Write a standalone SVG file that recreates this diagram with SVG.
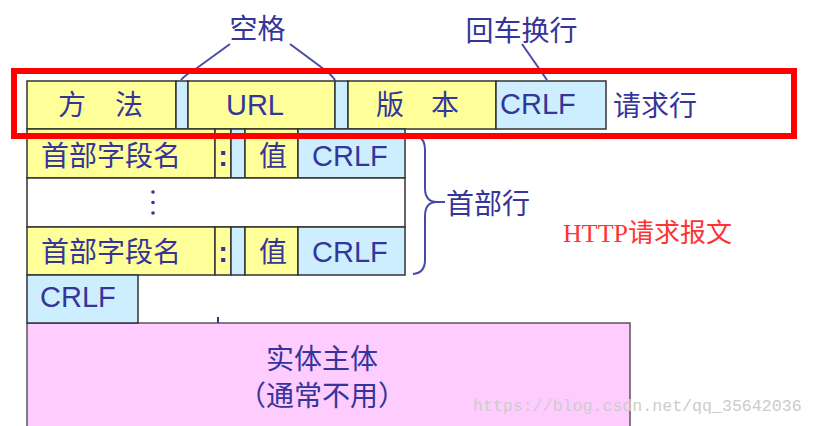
<svg xmlns="http://www.w3.org/2000/svg" width="815" height="426" viewBox="0 0 815 426">
<style>
.y{fill:#ffff99;stroke:#333;stroke-width:1.5}
.b{fill:#cceeff;stroke:#333;stroke-width:1.5}
.w{fill:#ffffff;stroke:#333;stroke-width:1.5}
.p{fill:#ffccff;stroke:#555;stroke-width:1.5}
.t{font-family:"Noto Sans CJK SC","Liberation Sans",sans-serif;font-size:28px;fill:#35359a}
.l{font-family:"Liberation Sans",Arial,sans-serif;font-size:29px;fill:#35359a}
.c{text-anchor:middle}
.ln{fill:none;stroke:#4a4aa6;stroke-width:2}
</style>
<rect width="815" height="426" fill="#ffffff"/>
<g id="body">
<rect class="p" x="27" y="323" width="603" height="120"/>
<text class="t c" x="322" y="369" font-size="25">实体主体</text>
<text class="t c" x="322" y="406" font-size="25">（通常不用）</text>
</g>
<g id="request-line">
<rect class="y" x="27" y="81" width="149" height="48"/>
<text class="t c" y="115"><tspan x="72">方</tspan><tspan x="129">法</tspan></text>
<rect class="b" x="176" y="81" width="12" height="48"/>
<rect class="y" x="188" y="81" width="147" height="48"/>
<text class="l c" x="255" y="115">URL</text>
<rect class="b" x="335" y="81" width="13" height="48"/>
<rect class="y" x="348" y="81" width="148" height="48"/>
<text class="t c" y="115"><tspan x="390">版</tspan><tspan x="445">本</tspan></text>
<rect class="b" x="496" y="81" width="110" height="48"/>
<text class="l" x="500" y="114">CRLF</text>
</g>
<g id="header-1">
<rect class="y" x="27" y="129" width="188" height="49"/>
<text class="t" x="41" y="166">首部字段名</text>
<rect class="y" x="215" y="129" width="16" height="49"/>
<text class="l c" x="223" y="166" font-weight="bold">:</text>
<rect class="b" x="231" y="129" width="14" height="49"/>
<rect class="y" x="245" y="129" width="53" height="49"/>
<text class="t c" x="273" y="166">值</text>
<rect class="b" x="298" y="129" width="107" height="49"/>
<text class="l" x="312" y="166">CRLF</text>
</g>
<g id="header-dots">
<rect class="w" x="27" y="178" width="378" height="49"/>
<circle cx="153" cy="192" r="1.8" fill="#35359a"/>
<circle cx="153" cy="202.5" r="1.8" fill="#35359a"/>
<circle cx="153" cy="213" r="1.8" fill="#35359a"/>
</g>
<g id="header-n">
<rect class="y" x="27" y="227" width="188" height="48"/>
<text class="t" x="41" y="262">首部字段名</text>
<rect class="y" x="215" y="227" width="16" height="48"/>
<text class="l c" x="223" y="262" font-weight="bold">:</text>
<rect class="b" x="231" y="227" width="14" height="48"/>
<rect class="y" x="245" y="227" width="53" height="48"/>
<text class="t c" x="273" y="262">值</text>
<rect class="b" x="298" y="227" width="107" height="48"/>
<text class="l" x="312" y="262">CRLF</text>
</g>
<g id="blank-crlf">
<rect class="b" x="27" y="275" width="111" height="48"/>
<text class="l" x="40" y="307">CRLF</text>
<line x1="218" y1="317" x2="218" y2="323" stroke="#35359a" stroke-width="2"/>
</g>
<g id="labels">
<text class="t c" x="257.5" y="39">空格</text>
<text class="t c" x="521.5" y="41">回车换行</text>
<text class="t" x="613" y="116">请求行</text>
<text class="t" x="446" y="214">首部行</text>
<text x="563" y="242" font-family="'Liberation Serif','Noto Sans CJK SC',serif" font-size="26" fill="#ff3333">HTTP请求报文</text>
</g>
<g id="connectors">
<path class="ln" d="M230 44 L197 68 Q185 75 181 80"/>
<path class="ln" d="M290 44 L321 67 Q331 74 335 80"/>
<path class="ln" d="M522 44 L547 80"/>
<path class="ln" d="M413 135 Q425 136 425 150 L425 188 Q425 202 437 202 L445 202 M437 202 Q425 202 425 216 L425 260 Q425 273 413 274"/>
</g>
<rect id="request-line-highlight" x="14" y="71" width="780" height="65" fill="none" stroke="#ff0000" stroke-width="6"/>
<text x="473" y="411" font-family="'Liberation Mono',monospace" font-size="16.6" fill="#cccccc">https://blog.csdn.net/qq_35642036</text>
</svg>
